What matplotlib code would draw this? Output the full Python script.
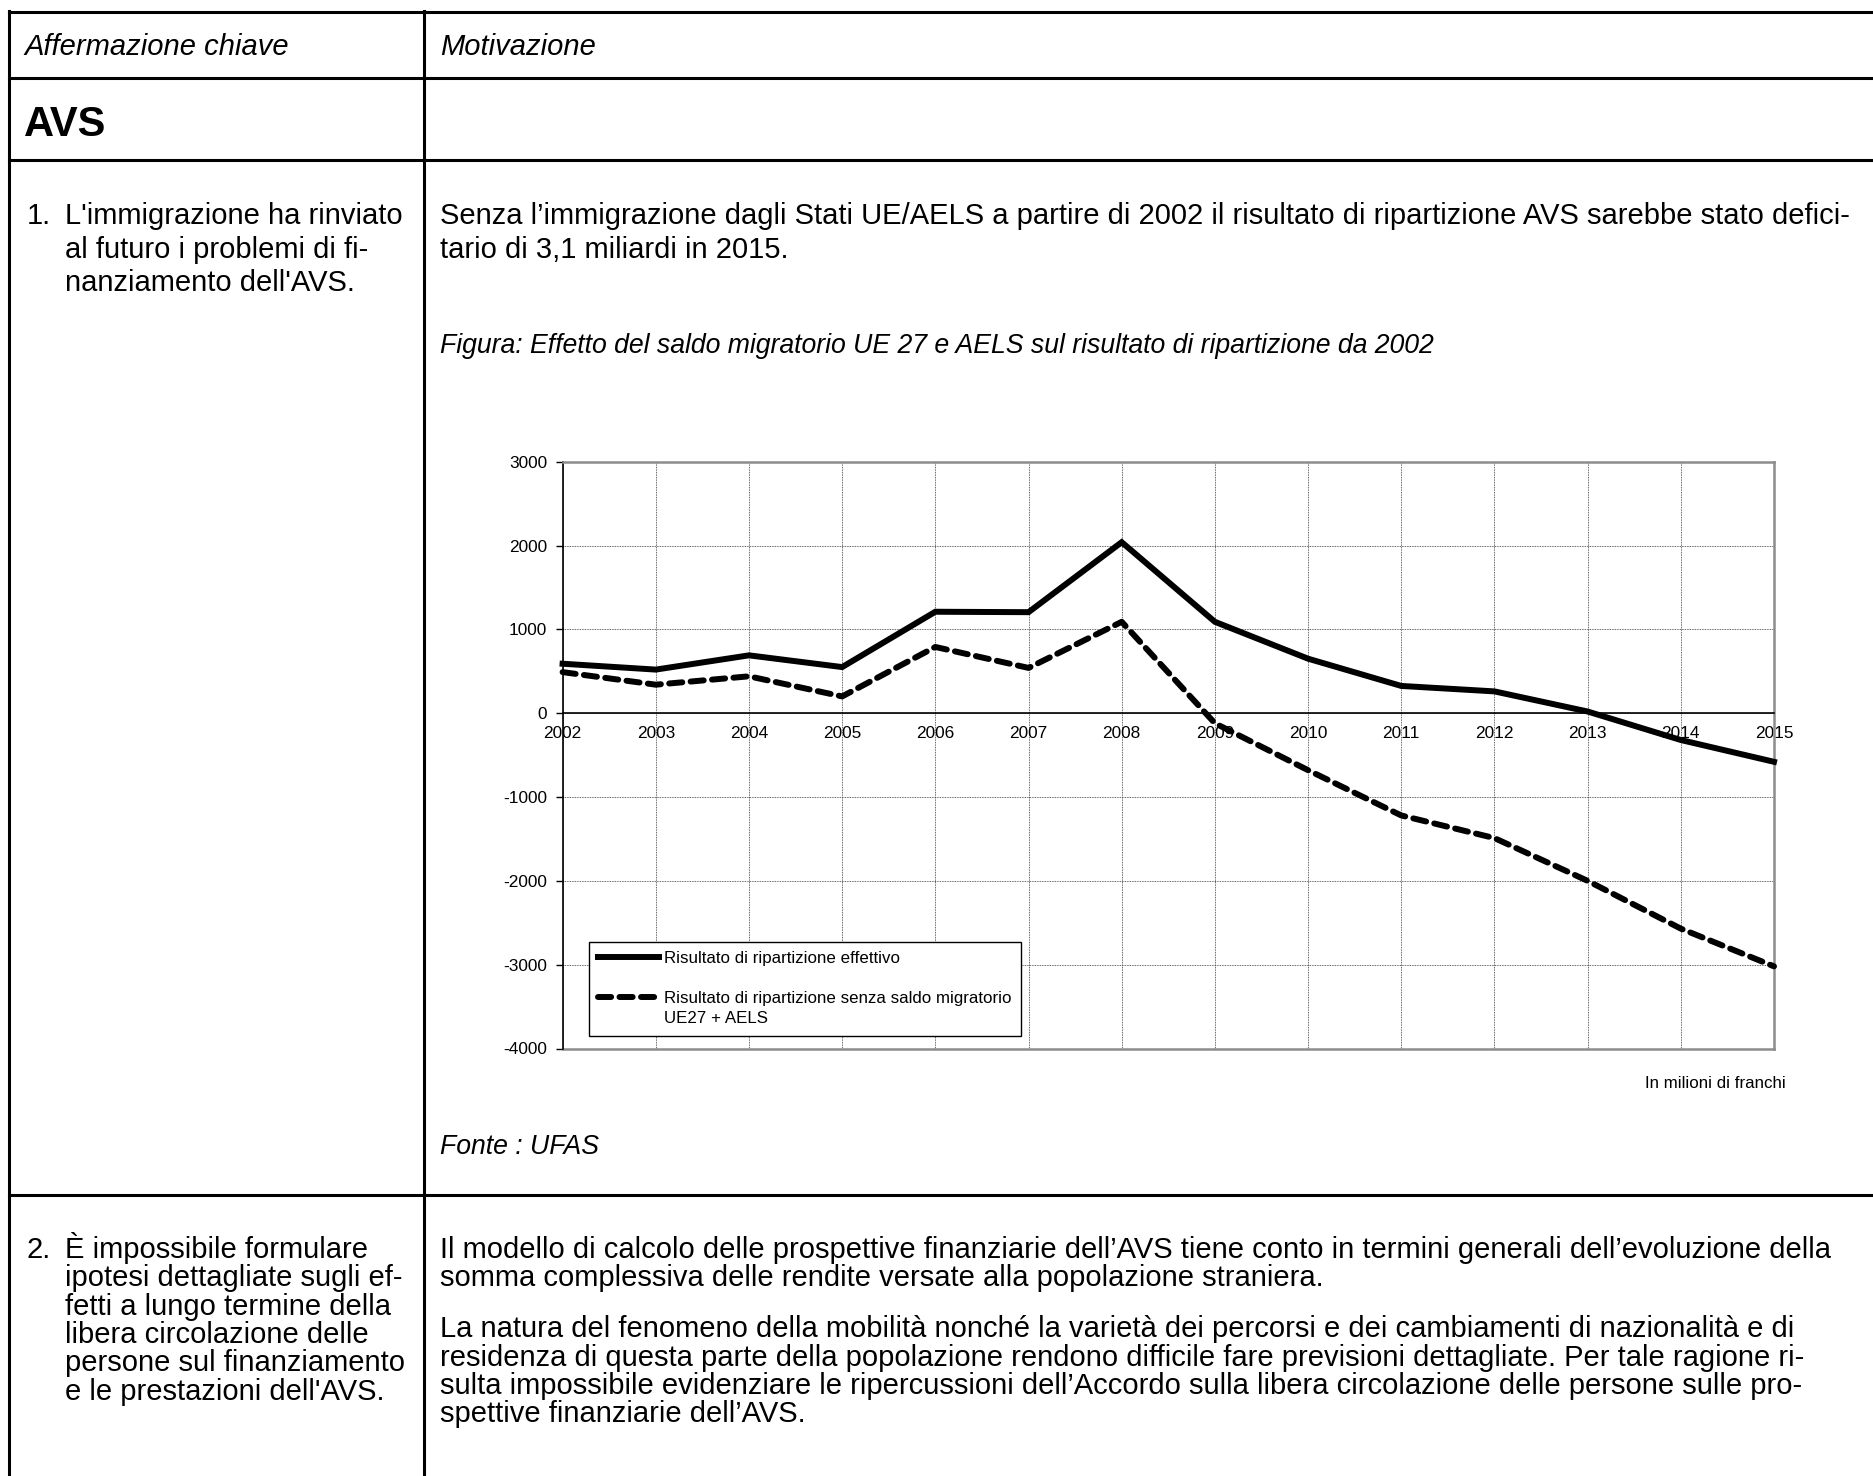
import matplotlib
matplotlib.use("Agg")
import matplotlib.pyplot as plt
from matplotlib.lines import Line2D

plt.rcParams["font.family"] = ["Liberation Sans", "DejaVu Sans"]
plt.rcParams["axes.unicode_minus"] = False

# ---- data (millions CHF) ----
years = [2002, 2003, 2004, 2005, 2006, 2007, 2008, 2009, 2010, 2011, 2012, 2013, 2014, 2015]
effettivo = [590, 520, 690, 550, 1210, 1205, 2040, 1090, 650, 325, 260, 20, -320, -580]
senza_migr = [490, 340, 440, 200, 790, 540, 1090, -120, -680, -1220, -1490, -2000, -2570, -3020]
yticks = [-4000, -3000, -2000, -1000, 0, 1000, 2000, 3000]
series_labels = ["Risultato di ripartizione effettivo",
                 "Risultato di ripartizione senza saldo migratorio", "UE27 + AELS"]

col_left = ["Affermazione chiave", "AVS"]
point1 = ["L'immigrazione ha rinviato", "al futuro i problemi di fi-", "nanziamento dell'AVS."]
motiv1 = ["Senza l\u2019immigrazione dagli Stati UE/AELS a partire di 2002 il risultato di ripartizione AVS sarebbe stato defici-",
          "tario di 3,1 miliardi in 2015."]
fig_title = "Figura: Effetto del saldo migratorio UE 27 e AELS sul risultato di ripartizione da 2002"
point2 = ["\u00c8 impossibile formulare", "ipotesi dettagliate sugli ef-", "fetti a lungo termine della",
          "libera circolazione delle", "persone sul finanziamento", "e le prestazioni dell'AVS."]
motiv2a = ["Il modello di calcolo delle prospettive finanziarie dell\u2019AVS tiene conto in termini generali dell\u2019evoluzione della",
           "somma complessiva delle rendite versate alla popolazione straniera."]
motiv2b = ["La natura del fenomeno della mobilit\u00e0 nonch\u00e9 la variet\u00e0 dei percorsi e dei cambiamenti di nazionalit\u00e0 e di",
           "residenza di questa parte della popolazione rendono difficile fare previsioni dettagliate. Per tale ragione ri-",
           "sulta impossibile evidenziare le ripercussioni dell\u2019Accordo sulla libera circolazione delle persone sulle pro-",
           "spettive finanziarie dell\u2019AVS."]

W, H = 1874, 1476
fig = plt.figure(figsize=(W / 100, H / 100), dpi=100)


def fx(x):
    return x / W


def fy(y):
    return 1 - y / H


def hline(y, x0=9, x1=W, lw=2.2):
    fig.add_artist(Line2D([fx(x0), fx(x1)], [fy(y), fy(y)], color="black", lw=lw))


def vline(x, y0=11, y1=H, lw=2.2):
    fig.add_artist(Line2D([fx(x), fx(x)], [fy(y0), fy(y1)], color="black", lw=lw))


def put(x, y, s, size=21, **kw):
    fig.text(fx(x), fy(y), s, fontsize=size, va="baseline", ha="left", **kw)


# ---- table grid ----
for y in [12, 78, 160, 1195]:
    hline(y)
vline(9)
vline(424)

# ---- table text ----
put(24, 55, col_left[0], style="italic")
put(440, 55, "Motivazione", style="italic")
put(24, 136, col_left[1], size=30, fontweight="bold")

put(27, 224, "1.")
for i, s in enumerate(point1):
    put(65, 224 + 33.5 * i, s)
for i, s in enumerate(motiv1):
    put(440, 224 + 33.5 * i, s)
put(440, 353, fig_title, size=19.2, style="italic")
put(440, 1154, "Fonte : UFAS", size=19.2, style="italic")

put(27, 1258, "2.")
for i, s in enumerate(point2):
    put(65, 1258 + 28.3 * i, s)
for i, s in enumerate(motiv2a):
    put(440, 1258 + 28.5 * i, s)
for i, s in enumerate(motiv2b):
    put(440, 1337 + 28.5 * i, s)

# ---- chart ----
ax_l, ax_r, ax_t, ax_b = 562.6, 1774, 461.7, 1048.5
ax = fig.add_axes([fx(ax_l), fy(ax_b), fx(ax_r) - fx(ax_l), fy(ax_t) - fy(ax_b)])
ax.set_xlim(years[0], years[-1])
ax.set_ylim(yticks[0], yticks[-1])
ax.set_xticks(years)
ax.set_yticks(yticks)
ax.tick_params(axis="y", labelsize=12.4, length=5, width=1, pad=6)
ax.tick_params(axis="x", labelsize=12.4, length=0, pad=9)
ax.set_axisbelow(True)
ax.grid(True, color="#333333", lw=0.6, linestyle=(0, (1, 1)))

ax.spines["bottom"].set_position(("data", 0))
ax.spines["bottom"].set_color("black")
ax.spines["bottom"].set_linewidth(1.2)
ax.spines["left"].set_color("black")
ax.spines["left"].set_linewidth(1.2)
for side in ["top", "right"]:
    ax.spines[side].set_color("#8c8c8c")
    ax.spines[side].set_linewidth(1.8)
ax.axhline(yticks[0], color="#8c8c8c", lw=1.8, clip_on=False, zorder=1)

ax.plot(years, effettivo, color="black", lw=4.3, solid_joinstyle="miter",
        label=series_labels[0], clip_on=False, zorder=3)
ax.plot(years, senza_migr, color="black", lw=4.3, dashes=(2.2, 1.4), dash_capstyle="round",
        label=series_labels[1], clip_on=False, zorder=3)

blank = Line2D([], [], color="none", label=" ")
extra = Line2D([], [], color="none", label=series_labels[2])
h = ax.get_legend_handles_labels()[0]
leg = ax.legend(handles=[h[0], blank, h[1], extra], loc="lower left",
                bbox_to_anchor=(0.0218, 0.0218), borderaxespad=0, fontsize=12.2,
                handlelength=3.6, handletextpad=0.3, labelspacing=0.3, borderpad=0.55,
                frameon=True, fancybox=False, edgecolor="black", framealpha=1)
leg.get_frame().set_linewidth(1.0)

ax.text(1.0099, -0.0588, "In milioni di franchi", transform=ax.transAxes,
        ha="right", va="center", fontsize=12.2)

fig.savefig("out.png", dpi=100)
